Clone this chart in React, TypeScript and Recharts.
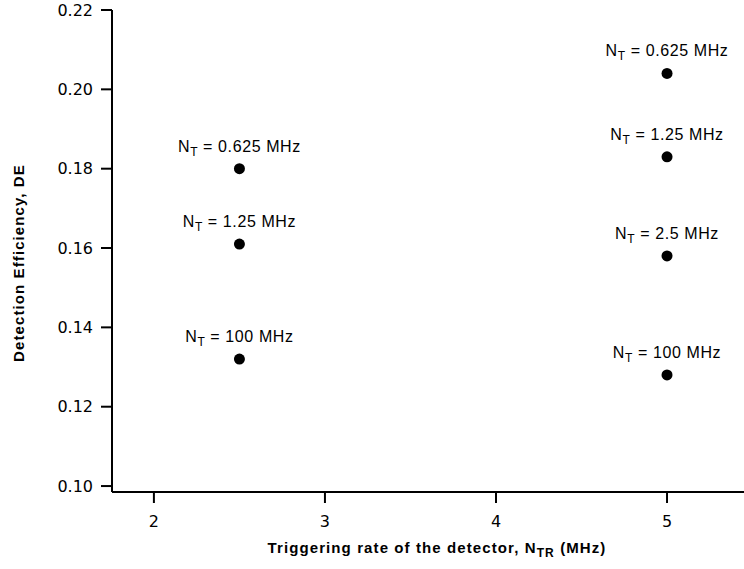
import { ScatterChart, Scatter, XAxis, YAxis, Label } from "recharts";

const triggerRates = [2.5, 2.5, 2.5, 5, 5, 5, 5];
const efficiencies = [0.18, 0.161, 0.132, 0.204, 0.183, 0.158, 0.128];
const ntLabels = ["0.625", "1.25", "100", "0.625", "1.25", "2.5", "100"];

const xTicks = [2, 3, 4, 5];
const yTicks = [0.1, 0.12, 0.14, 0.16, 0.18, 0.2, 0.22];

const points = triggerRates.map((rate, i) => ({
    rate,
    de: efficiencies[i],
    nt: ntLabels[i],
}));

const labelFont = "Liberation Sans, Arial, sans-serif";

function DotWithLabel(props: any) {
    const { cx, cy, payload } = props;
    return (
        <g>
            <circle cx={cx} cy={cy} r={5.5} fill="#000" />
            <text
                x={cx}
                y={cy - 17}
                textAnchor="middle"
                fontSize={16}
                letterSpacing={0.6}
                fontFamily={labelFont}
                fill="#000"
            >
                N
                <tspan fontSize={12} dy={4}>
                    T
                </tspan>
                <tspan dy={-4}>{` = ${payload.nt} MHz`}</tspan>
            </text>
        </g>
    );
}

export default function App() {
    const tickStyle = { fill: "#000", fontSize: 16, fontFamily: "DejaVu Sans" };
    return (
        <div style={{ position: "absolute", left: 0, top: 0, background: "#fff" }}>
            <ScatterChart
                width={744}
                height={569}
                margin={{ top: 10, right: 0, bottom: 0, left: 0 }}
            >
                <XAxis
                    type="number"
                    dataKey="rate"
                    domain={[1.755, 5.45]}
                    ticks={xTicks}
                    allowDataOverflow
                    height={77}
                    tick={tickStyle}
                    tickSize={11}
                    tickMargin={13}
                    axisLine={{ stroke: "#000", strokeWidth: 2 }}
                    tickLine={{ stroke: "#000", strokeWidth: 2 }}
                >
                    <Label
                        content={({ viewBox }: any) => (
                            <text
                                x={viewBox.x + viewBox.width / 2 + 9}
                                y={viewBox.y + 61}
                                textAnchor="middle"
                                fontSize={15}
                                letterSpacing={1.1}
                                fontWeight="bold"
                                fontFamily={labelFont}
                                fill="#000"
                            >
                                Triggering rate of the detector, N
                                <tspan fontSize={12} dy={4}>
                                    TR
                                </tspan>
                                <tspan dy={-4}> (MHz)</tspan>
                            </text>
                        )}
                    />
                </XAxis>
                <YAxis
                    type="number"
                    dataKey="de"
                    domain={[0.0985, 0.22]}
                    ticks={yTicks}
                    allowDataOverflow
                    width={112}
                    tick={tickStyle}
                    tickSize={11}
                    tickMargin={8}
                    tickFormatter={(v: number) => v.toFixed(2)}
                    axisLine={{ stroke: "#000", strokeWidth: 2 }}
                    tickLine={{ stroke: "#000", strokeWidth: 2 }}
                >
                    <Label
                        content={({ viewBox }: any) => {
                            const cy = viewBox.y + viewBox.height / 2 + 12;
                            return (
                                <text
                                    x={24}
                                    y={cy}
                                    transform={`rotate(-90, 24, ${cy})`}
                                    textAnchor="middle"
                                    fontSize={15}
                                    letterSpacing={1.1}
                                    fontWeight="bold"
                                    fontFamily={labelFont}
                                    fill="#000"
                                >
                                    Detection Efficiency, DE
                                </text>
                            );
                        }}
                    />
                </YAxis>
                <Scatter
                    data={points}
                    fill="#000"
                    shape={DotWithLabel}
                    isAnimationActive={false}
                />
            </ScatterChart>
        </div>
    );
}
